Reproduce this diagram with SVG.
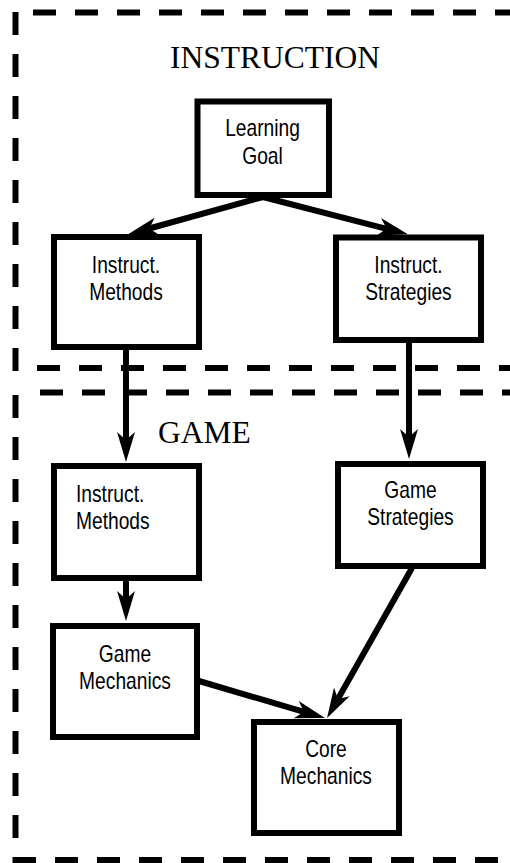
<svg xmlns="http://www.w3.org/2000/svg" width="510" height="863" viewBox="0 0 510 863">
<style>
.bg{fill:#fff}
.dash{fill:none;stroke:#000;stroke-width:6;stroke-dasharray:23 19}
.box{fill:#fff;stroke:#000;stroke-width:6}
.lbl{font-family:"Liberation Sans",Arial,sans-serif;font-size:24px;fill:#000}
.ttl{font-family:"Liberation Serif","Times New Roman",serif;font-size:31.5px;fill:#000}
.conn{fill:none;stroke:#000;stroke-width:6;marker-end:url(#ah)}
</style>
<defs>
<marker id="ah" viewBox="-31 -10 32 20" refX="-22" refY="0" markerWidth="32" markerHeight="20" markerUnits="userSpaceOnUse" orient="auto">
<path d="M0,0 L-30,-9 L-22,0 L-30,9 Z" fill="#000"/>
</marker>
</defs>
<rect class="bg" x="0" y="0" width="510" height="863"/>
<g id="frames">
<line class="dash" x1="33" y1="12.5" x2="530" y2="12.5"/>
<line class="dash" x1="15.5" y1="12" x2="15.5" y2="371"/>
<line class="dash" x1="37" y1="368" x2="530" y2="368"/>
<line class="dash" x1="40" y1="392.5" x2="530" y2="392.5"/>
<line class="dash" x1="15.5" y1="395" x2="15.5" y2="863"/>
<line class="dash" x1="13" y1="860" x2="530" y2="860"/>
</g>
<text class="ttl" x="275" y="68" text-anchor="middle">INSTRUCTION</text>
<text class="ttl" x="158" y="443">GAME</text>
<g id="connectors">
<line class="conn" x1="263" y1="197" x2="149.3" y2="228.5"/>
<line class="conn" x1="263" y1="197" x2="386.6" y2="228.8"/>
<line class="conn" x1="126" y1="349" x2="126" y2="440"/>
<line class="conn" x1="409" y1="342" x2="409" y2="437"/>
<line class="conn" x1="126" y1="580" x2="126" y2="599"/>
<line class="conn" x1="199" y1="681" x2="303.9" y2="711.9"/>
<line class="conn" x1="412" y1="568" x2="337.9" y2="698.9"/>
</g>
<g id="learning-goal">
<rect class="box" x="197.5" y="101.5" width="131.5" height="93.5"/>
<text class="lbl" x="262.5" y="136" text-anchor="middle" textLength="74.7" lengthAdjust="spacingAndGlyphs">Learning</text>
<text class="lbl" x="262.5" y="164" text-anchor="middle" textLength="40.6" lengthAdjust="spacingAndGlyphs">Goal</text>
</g>
<g id="instruct-methods">
<rect class="box" x="54" y="237" width="145" height="110"/>
<text class="lbl" x="126" y="273" text-anchor="middle" textLength="68.3" lengthAdjust="spacingAndGlyphs">Instruct.</text>
<text class="lbl" x="126" y="300" text-anchor="middle" textLength="73.6" lengthAdjust="spacingAndGlyphs">Methods</text>
</g>
<g id="instruct-strategies">
<rect class="box" x="336" y="237.5" width="145" height="102.5"/>
<text class="lbl" x="408.5" y="273" text-anchor="middle" textLength="68.3" lengthAdjust="spacingAndGlyphs">Instruct.</text>
<text class="lbl" x="408.5" y="300" text-anchor="middle" textLength="86.4" lengthAdjust="spacingAndGlyphs">Strategies</text>
</g>
<g id="game-instruct-methods">
<rect class="box" x="54" y="466" width="145" height="112"/>
<text class="lbl" x="76" y="502" textLength="68.3" lengthAdjust="spacingAndGlyphs">Instruct.</text>
<text class="lbl" x="76" y="529" textLength="73.6" lengthAdjust="spacingAndGlyphs">Methods</text>
</g>
<g id="game-strategies">
<rect class="box" x="338" y="464" width="145" height="102"/>
<text class="lbl" x="410.5" y="498" text-anchor="middle" textLength="52.3" lengthAdjust="spacingAndGlyphs">Game</text>
<text class="lbl" x="410.5" y="525" text-anchor="middle" textLength="86.4" lengthAdjust="spacingAndGlyphs">Strategies</text>
</g>
<g id="game-mechanics">
<rect class="box" x="53" y="626" width="144" height="111"/>
<text class="lbl" x="125" y="662" text-anchor="middle" textLength="52.3" lengthAdjust="spacingAndGlyphs">Game</text>
<text class="lbl" x="125" y="689" text-anchor="middle" textLength="91.8" lengthAdjust="spacingAndGlyphs">Mechanics</text>
</g>
<g id="core-mechanics">
<rect class="box" x="254" y="722" width="145" height="111"/>
<text class="lbl" x="326" y="757" text-anchor="middle" textLength="41.6" lengthAdjust="spacingAndGlyphs">Core</text>
<text class="lbl" x="326" y="784" text-anchor="middle" textLength="91.8" lengthAdjust="spacingAndGlyphs">Mechanics</text>
</g>
</svg>
